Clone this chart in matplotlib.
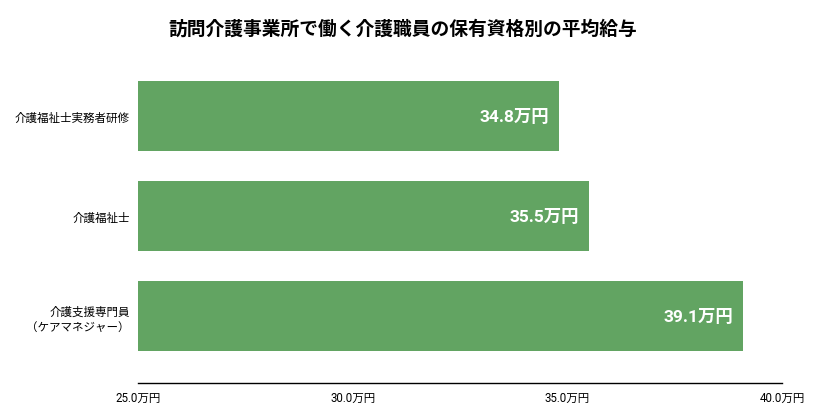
import matplotlib
matplotlib.use("Agg")
import matplotlib.pyplot as plt

plt.rcParams['font.family'] = ['Roboto', 'Noto Sans CJK JP', 'DejaVu Sans']

title = "訪問介護事業所で働く介護職員の保有資格別の平均給与"
categories = ["介護福祉士実務者研修", "介護福祉士", "介護支援専門員\n（ケアマネジャー）"]
salaries = [34.8, 35.5, 39.1]
ticks = [25.0, 30.0, 35.0, 40.0]
base = 25.0
bar_color = "#62a462"

fig = plt.figure(figsize=(8.13, 4.10), dpi=100)
ax = fig.add_axes([0.1697, 0.0634, 0.7923, 0.79])

ypos = list(range(len(categories)))
widths = [v - base for v in salaries]
ax.barh(ypos, widths, left=base, height=0.7, color=bar_color)

for y, v in zip(ypos, salaries):
    ax.annotate(f"{v:.1f}万円", xy=(v, y), xytext=(-7, 0), textcoords="offset points",
                ha="right", va="center", color="white", fontsize=12.5, fontweight="bold")

ax.set_xlim(base, 40.0)
ax.set_ylim(2.67, -0.57)
ax.set_yticks(ypos)
ax.set_yticklabels(categories, fontsize=8.3)
ax.set_xticks(ticks)
ax.set_xticklabels([f"{t:.1f}万円" for t in ticks], fontsize=8.3)
ax.tick_params(axis="y", length=0, pad=6)
ax.tick_params(axis="x", length=0, pad=6)

for s in ["top", "right", "left"]:
    ax.spines[s].set_visible(False)
ax.spines["bottom"].set_color("black")
ax.spines["bottom"].set_linewidth(1)

fig.text(0.495, 0.928, title, ha="center", va="center", fontsize=13.5, fontweight="bold")

fig.savefig("out.png", dpi=100)
